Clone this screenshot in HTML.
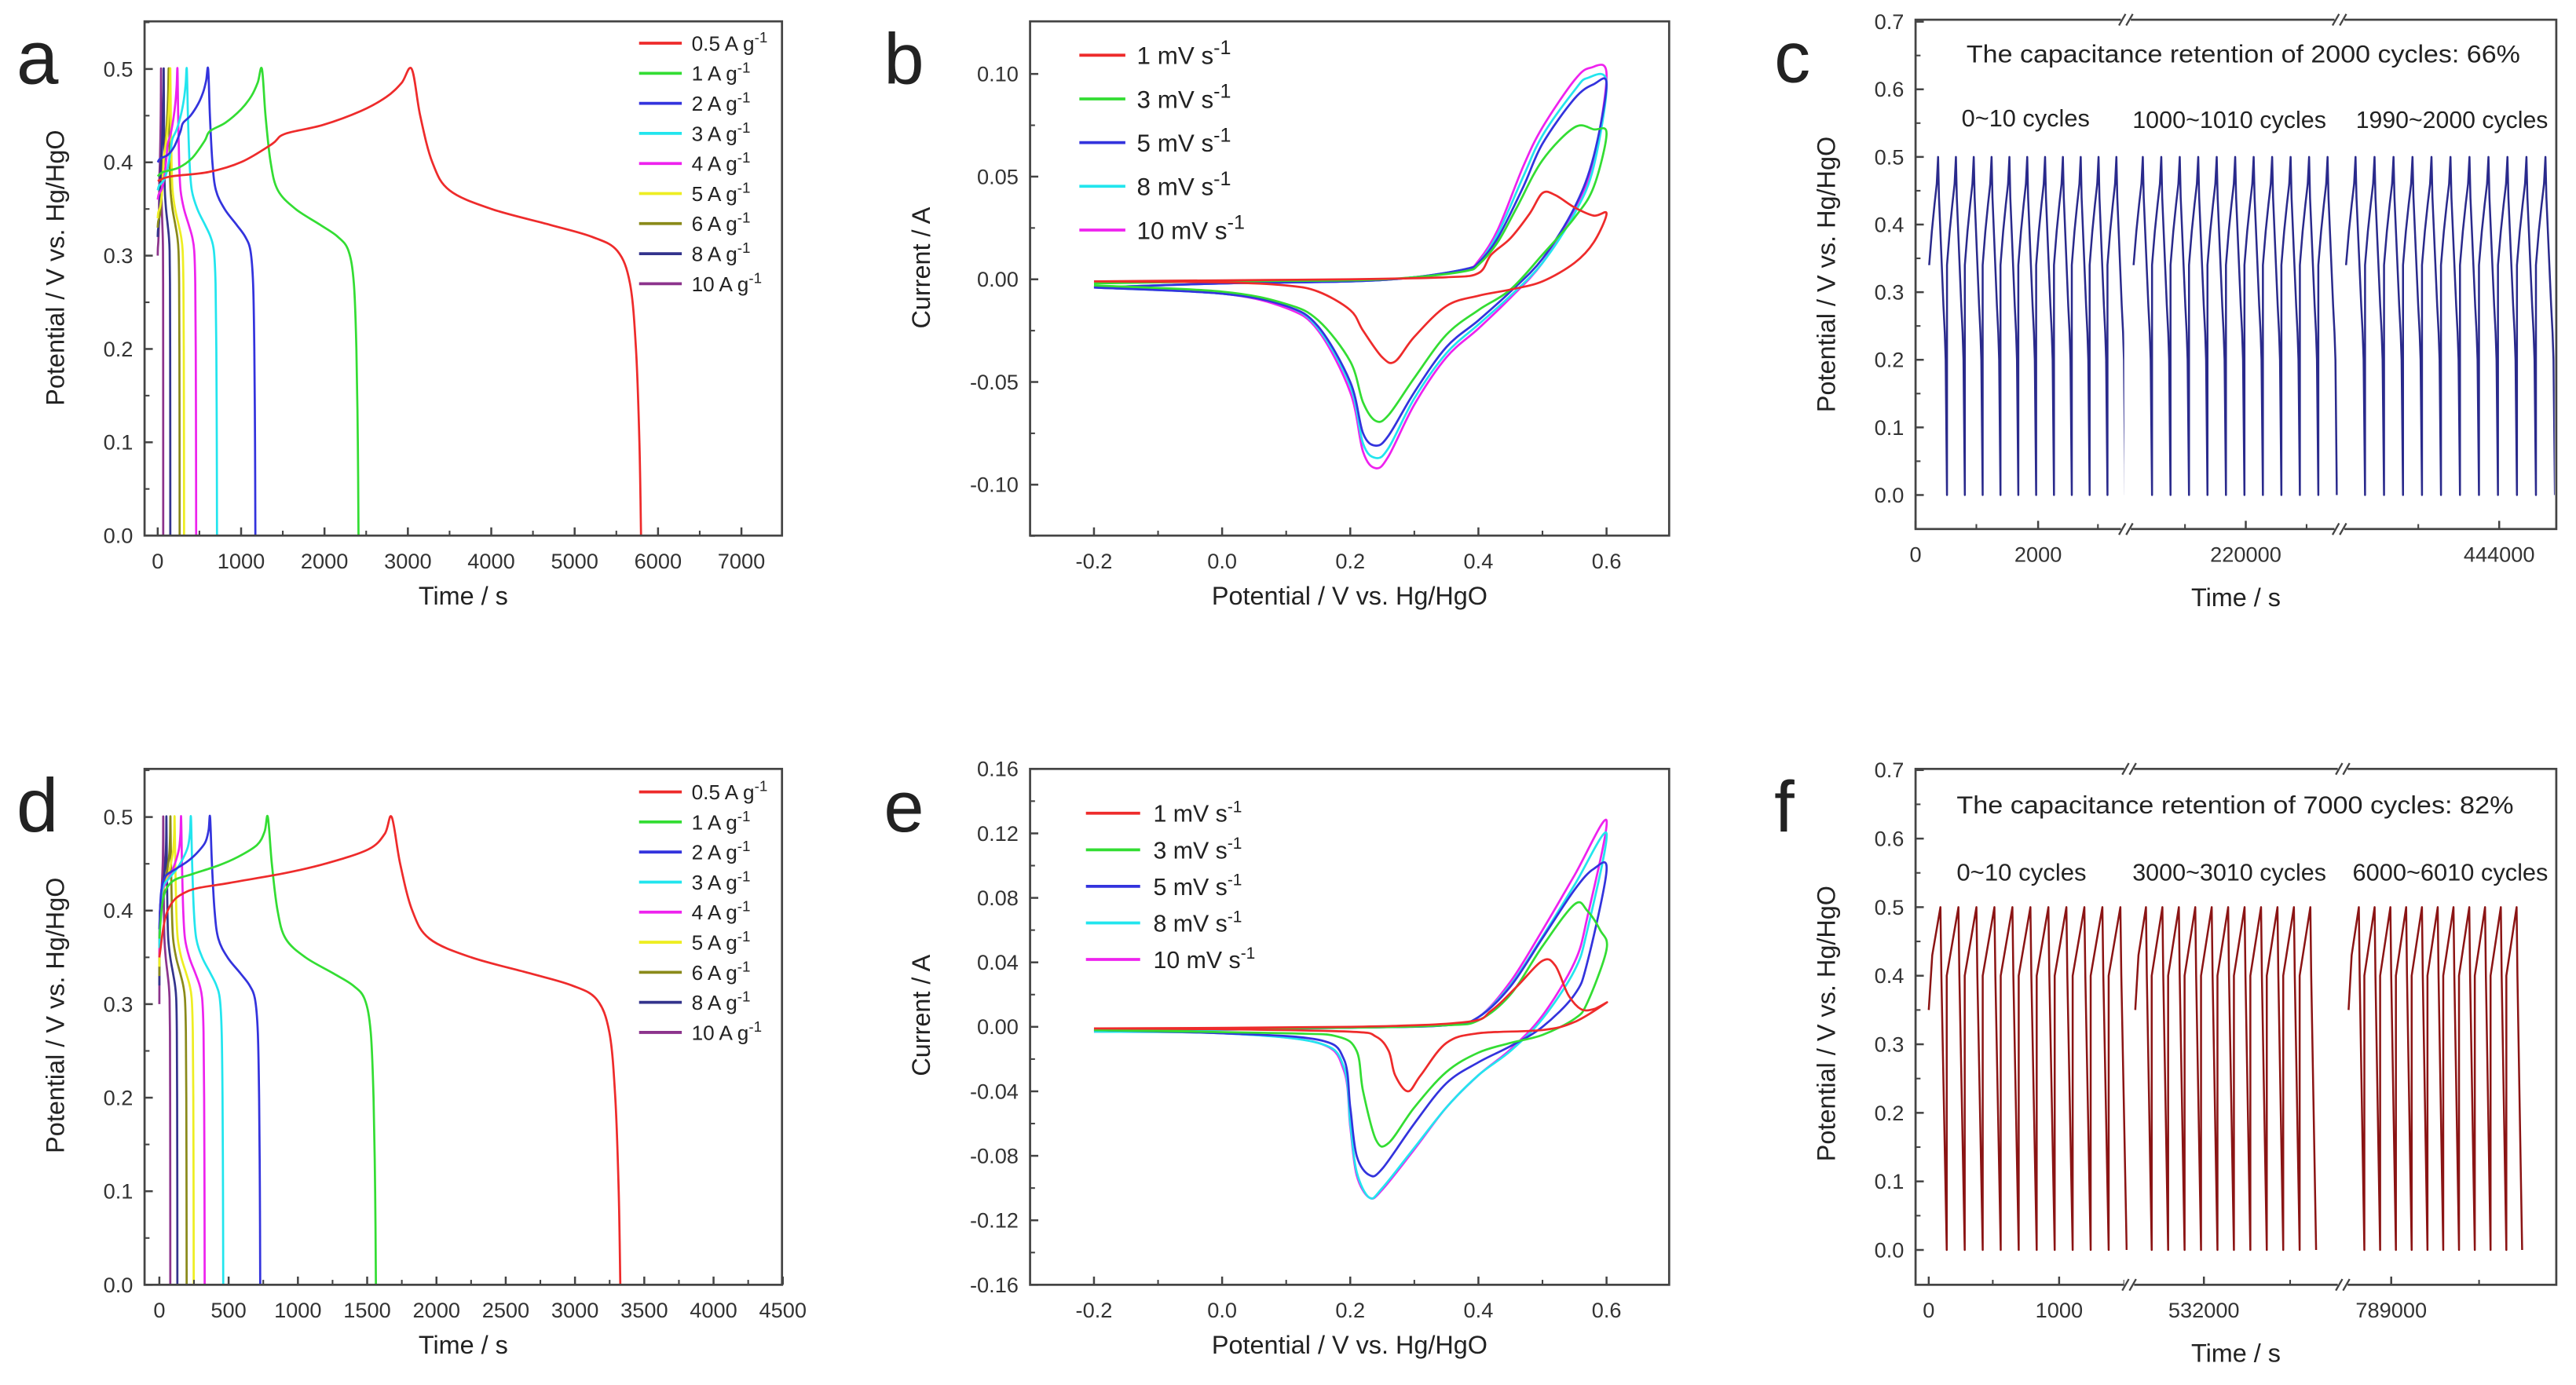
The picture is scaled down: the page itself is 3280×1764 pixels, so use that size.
<!DOCTYPE html>
<html><head><meta charset="utf-8"><title>Electrochemical performance figure</title>
<style>
html,body{margin:0;padding:0;background:#fff;}
svg{display:block;font-family:"Liberation Sans",Arial,sans-serif;}
</style></head>
<body>
<svg id="fig" xmlns="http://www.w3.org/2000/svg" width="3280" height="1764" viewBox="0 0 1568 843" preserveAspectRatio="none">
<rect x="0" y="0" width="1568" height="843" fill="#fff"/>
</svg>
<script>
// ---------- DATA ----------
// Panel a GCD
const gcdRatesA = ['0.5','1','2','3','4','5','6','8','10'];
const gcdChargeEndA = [3046,1250,605,349,237,151,132,72,40];
const gcdDischargeEndA = [5796,2408,1171,711,461,316,263,151,66];
const gcdStartVA = [0.38,0.385,0.40,0.37,0.36,0.34,0.33,0.32,0.30];
// Panel d GCD
const gcdRatesD = ['0.5','1','2','3','4','5','6','8','10'];
const gcdChargeEndD = [1677,783,366,228,157,110,80,51,28];
const gcdDischargeEndD = [3327,1563,728,461,327,248,197,130,79];
const gcdStartVD = [0.35,0.37,0.38,0.36,0.35,0.34,0.33,0.32,0.30];
// normalised charge / discharge shapes
const chargeShapeT = [0,0.05,0.2,0.33,0.45,0.5,0.65,0.8,0.9,0.96,1];
const chargeShapeF = [0,0.04,0.08,0.17,0.33,0.42,0.5,0.625,0.75,0.875,1];
const chargeShapeTD = [0,0.035,0.12,0.3,0.54,0.72,0.9,0.97,1];
const chargeShapeFD = [0,0.33,0.47,0.53,0.6,0.67,0.77,0.88,1];
const dischargeShapeT = [0,0.037,0.09,0.165,0.348,0.604,0.788,0.897,0.952,0.978,0.993,1];
const dischargeShapeV = [0.5,0.45,0.40,0.37,0.35,0.333,0.32,0.305,0.27,0.2,0.1,0];
const gcdColors = ['#ee2b2b','#33dd33','#3333dd','#22e5ee','#ee22ee','#eeee22','#8a8a1a','#33338c','#8c338c'];

// Panel b CV  [potential, current]
const cvRatesB = ['1','3','5','8','10'];
const cvB1 = [[-0.2,-0.001],[0,-0.0005],[0.2,0],[0.35,0.001],[0.4,0.003],[0.42,0.012],[0.45,0.02],[0.48,0.032],[0.5,0.042],[0.52,0.041],[0.55,0.035],[0.58,0.031],[0.6,0.032],[0.58,0.018],[0.55,0.008],[0.5,-0.001],[0.45,-0.005],[0.4,-0.008],[0.35,-0.013],[0.3,-0.028],[0.27,-0.04],[0.25,-0.038],[0.22,-0.025],[0.2,-0.015],[0.15,-0.006],[0.1,-0.003],[0,-0.0015],[-0.2,-0.001]];
const cvB3 = [[-0.2,-0.002],[0,-0.001],[0.2,-0.0005],[0.3,0.001],[0.38,0.004],[0.4,0.007],[0.43,0.018],[0.46,0.035],[0.5,0.058],[0.55,0.074],[0.58,0.073],[0.6,0.071],[0.58,0.045],[0.55,0.03],[0.5,0.012],[0.45,-0.005],[0.4,-0.015],[0.35,-0.027],[0.3,-0.048],[0.26,-0.066],[0.24,-0.069],[0.22,-0.06],[0.2,-0.04],[0.15,-0.02],[0.1,-0.012],[0,-0.006],[-0.2,-0.003]];
const cvB5 = [[-0.2,-0.004],[0,-0.002],[0.2,-0.001],[0.3,0.001],[0.38,0.005],[0.4,0.008],[0.43,0.02],[0.47,0.045],[0.5,0.066],[0.55,0.088],[0.58,0.095],[0.6,0.095],[0.58,0.06],[0.55,0.035],[0.5,0.01],[0.45,-0.006],[0.4,-0.02],[0.35,-0.033],[0.3,-0.055],[0.26,-0.076],[0.24,-0.081],[0.22,-0.075],[0.2,-0.05],[0.15,-0.023],[0.1,-0.013],[0,-0.007],[-0.2,-0.004]];
const cvB8 = [[-0.2,-0.004],[0,-0.002],[0.2,-0.001],[0.3,0.001],[0.38,0.005],[0.4,0.008],[0.43,0.022],[0.47,0.05],[0.5,0.07],[0.55,0.092],[0.57,0.098],[0.6,0.096],[0.58,0.055],[0.55,0.032],[0.5,0.008],[0.45,-0.008],[0.4,-0.022],[0.35,-0.036],[0.3,-0.058],[0.26,-0.082],[0.24,-0.087],[0.22,-0.08],[0.2,-0.052],[0.15,-0.024],[0.1,-0.013],[0,-0.007],[-0.2,-0.004]];
const cvB10 = [[-0.2,-0.004],[0,-0.002],[0.2,-0.001],[0.3,0.001],[0.38,0.005],[0.4,0.009],[0.43,0.024],[0.47,0.055],[0.5,0.074],[0.55,0.097],[0.575,0.103],[0.6,0.1],[0.58,0.058],[0.55,0.034],[0.5,0.008],[0.45,-0.009],[0.4,-0.024],[0.35,-0.038],[0.3,-0.061],[0.26,-0.086],[0.24,-0.092],[0.22,-0.084],[0.2,-0.055],[0.15,-0.025],[0.1,-0.014],[0,-0.007],[-0.2,-0.004]];
// Panel e CV
const cvRatesE = ['1','3','5','8','10'];
const cvE1 = [[-0.2,-0.001],[0.2,0],[0.38,0.003],[0.42,0.01],[0.46,0.025],[0.5,0.041],[0.52,0.038],[0.54,0.02],[0.56,0.011],[0.58,0.011],[0.6,0.015],[0.55,0.003],[0.5,-0.002],[0.4,-0.004],[0.35,-0.01],[0.31,-0.03],[0.29,-0.04],[0.27,-0.03],[0.26,-0.015],[0.24,-0.006],[0.2,-0.003],[0,-0.0015],[-0.2,-0.001]];
const cvE3 = [[-0.2,-0.002],[0.2,-0.0005],[0.35,0.001],[0.4,0.004],[0.45,0.02],[0.5,0.05],[0.55,0.076],[0.57,0.072],[0.59,0.06],[0.6,0.048],[0.57,0.015],[0.55,0.005],[0.5,-0.005],[0.45,-0.01],[0.4,-0.016],[0.35,-0.028],[0.3,-0.05],[0.26,-0.072],[0.24,-0.07],[0.22,-0.04],[0.21,-0.015],[0.18,-0.006],[0.1,-0.004],[-0.2,-0.002]];
const cvE5 = [[-0.2,-0.002],[0.2,-0.0005],[0.35,0.001],[0.4,0.006],[0.45,0.025],[0.5,0.055],[0.55,0.085],[0.58,0.098],[0.6,0.097],[0.57,0.04],[0.55,0.02],[0.5,0.0],[0.45,-0.012],[0.4,-0.022],[0.35,-0.035],[0.3,-0.06],[0.25,-0.088],[0.23,-0.092],[0.21,-0.08],[0.2,-0.05],[0.19,-0.02],[0.15,-0.008],[0,-0.004],[-0.2,-0.002]];
const cvE8 = [[-0.2,-0.003],[0.2,-0.0005],[0.35,0.001],[0.4,0.006],[0.45,0.026],[0.5,0.056],[0.55,0.088],[0.6,0.12],[0.57,0.06],[0.55,0.035],[0.5,0.005],[0.45,-0.015],[0.4,-0.03],[0.35,-0.05],[0.3,-0.075],[0.25,-0.1],[0.23,-0.106],[0.21,-0.09],[0.2,-0.06],[0.19,-0.025],[0.15,-0.01],[0,-0.004],[-0.2,-0.003]];
const cvE10 = [[-0.2,-0.003],[0.2,-0.0005],[0.35,0.001],[0.4,0.006],[0.45,0.028],[0.5,0.06],[0.55,0.094],[0.6,0.128],[0.57,0.068],[0.55,0.04],[0.5,0.007],[0.45,-0.014],[0.4,-0.03],[0.35,-0.05],[0.3,-0.076],[0.25,-0.101],[0.23,-0.106],[0.21,-0.092],[0.2,-0.062],[0.19,-0.027],[0.15,-0.01],[0,-0.004],[-0.2,-0.003]];
const cvColors = ['#ee2b2b','#33dd33','#3333dd','#22e5ee','#ee22ee'];

// Panel c cycling (segments: start time, period)
const cycSegStartC = [222, 218154, 441500];
const cycPeriodC = [291, 304, 310];
const cycCountC = [11, 11, 11];
const cycChargeShapeT = [0,0.3,0.6,0.85,1];
const cycChargeShapeV = [0.34,0.39,0.43,0.46,0.5];
const cycDischargeShapeT = [0,0.1,0.35,0.6,0.75,0.85,1];
const cycDischargeShapeV = [0.5,0.44,0.36,0.28,0.24,0.2,0];
// Panel f cycling
const cycSegStartF = [0, 531474, 788673];
const cycPeriodF = [138, 126, 121];
const cycCountF = [11, 11, 11];
const cycChargeShapeTF = [0,0.3,0.7,1];
const cycChargeShapeVF = [0.40,0.43,0.47,0.5];
const cycDischargeShapeTF = [0,0.15,0.3,1];
const cycDischargeShapeVF = [0.5,0.4,0.33,0];

// ---------- HELPERS ----------
const NS = 'http://www.w3.org/2000/svg';
const svg = document.getElementById('fig');
function mk(tag, attrs, parent){
  const e = document.createElementNS(NS, tag);
  for (const k in attrs) e.setAttribute(k, attrs[k]);
  (parent || svg).appendChild(e);
  return e;
}
function lin(d0,d1,r0,r1){ return v => r0 + (v-d0)*(r1-r0)/(d1-d0); }
function smoothPath(pts){
  if (pts.length < 2) return '';
  let d = 'M' + pts[0][0].toFixed(2) + ',' + pts[0][1].toFixed(2);
  for (let i=0;i<pts.length-1;i++){
    const p0 = pts[i-1]||pts[i], p1=pts[i], p2=pts[i+1], p3=pts[i+2]||p2;
    const c1 = [p1[0]+(p2[0]-p0[0])/6, p1[1]+(p2[1]-p0[1])/6];
    const c2 = [p2[0]-(p3[0]-p1[0])/6, p2[1]-(p3[1]-p1[1])/6];
    d += 'C'+c1[0].toFixed(2)+','+c1[1].toFixed(2)+' '+c2[0].toFixed(2)+','+c2[1].toFixed(2)+' '+p2[0].toFixed(2)+','+p2[1].toFixed(2);
  }
  return d;
}
function linePath(pts){
  return pts.map((p,i)=>(i?'L':'M')+p[0].toFixed(2)+','+p[1].toFixed(2)).join('');
}
function frame(g, b, name){
  const r = mk('rect',{x:b.x0,y:b.y0,width:b.x1-b.x0,height:b.y1-b.y0,fill:'none',stroke:'#444','stroke-width':1.3},g);
  
  
}
function yAxis(g, b, sy, ticks, labels, minors, name){
  ticks.forEach((v,i)=>{
    const y = sy(v);
    const t = mk('line',{x1:b.x0,x2:b.x0+5,y1:y,y2:y,stroke:'#444','stroke-width':1.2},g);
    
    
    const l = mk('text',{x:b.x0-7,y:y+4.5,'text-anchor':'end','font-size':13,fill:'#333'},g);
    l.textContent = labels[i];
    
    
  });
  minors.forEach(v=>{
    const y = sy(v);
    const t = mk('line',{x1:b.x0,x2:b.x0+3,y1:y,y2:y,stroke:'#444','stroke-width':1},g);
    
    
  });
}
function xAxis(g, b, xs, labels, minorXs, name){
  xs.forEach((x,i)=>{
    const t = mk('line',{x1:x,x2:x,y1:b.y1,y2:b.y1-5,stroke:'#444','stroke-width':1.2},g);
    
    
    const l = mk('text',{x:x,y:b.y1+20,'text-anchor':'middle','font-size':13,fill:'#333'},g);
    l.textContent = labels[i];
    
    
  });
  minorXs.forEach(x=>{
    const t = mk('line',{x1:x,x2:x,y1:b.y1,y2:b.y1-3,stroke:'#444','stroke-width':1},g);
    
    
  });
}
function text(g, x, y, s, size, anchor, name, extra){
  const a = Object.assign({x:x,y:y,'font-size':size,fill:'#222','text-anchor':anchor||'start'}, extra||{});
  const t = mk('text',a,g);
  t.textContent = s;
  
  
  return t;
}
function ytitle(g, x, y, s, name){
  const t = mk('text',{x:0,y:0,'font-size':15.5,fill:'#222','text-anchor':'middle',transform:'translate('+x+','+y+') rotate(-90)'},g);
  t.textContent = s;
  
  
}
function legendEntry(g, x1, x2, tx, y, color, label, unit, name, fs, sfs){
  const ln = mk('line',{x1:x1,x2:x2,y1:y,y2:y,stroke:color,'stroke-width':1.8},g);
  
  
  const t = mk('text',{x:tx,y:y+fs*0.36,'font-size':fs,fill:'#222'},g);
  
  
  t.appendChild(document.createTextNode(label+' '+unit));
  const s = mk('tspan',{'font-size':sfs,dy:-fs*0.4},t);
  s.textContent = '-1';
}
function breakMark(g, x, y, name){
  const w = mk('rect',{x:x-3,y:y-3,width:6,height:6,fill:'#fff'},g);
  
  
  [-2.2,2.2].forEach(dx=>{
    const l = mk('line',{x1:x+dx-2,y1:y+3.5,x2:x+dx+2,y2:y-3.5,stroke:'#444','stroke-width':1.1},g);
    
    
  });
}
function range(a,b,s){const r=[];for(let v=a;v<=b+1e-9;v+=s)r.push(+v.toFixed(6));return r;}

// ---------- GCD PANELS ----------
function gcdPanel(id, letter, b, sx, sy, xTicksV, rates, tc, td, v0, cT, cF, legY0, minorX){
  const g = mk('g',{});
  
  
  const clip = mk('clipPath',{id:'clip'+letter},g);
  mk('rect',{x:b.x0,y:b.y0-2,width:b.x1-b.x0,height:b.y1-b.y0+2},clip);
  const cg = mk('g',{'clip-path':'url(#clip'+letter+')'},g);
  
  
  for (let i=rates.length-1;i>=0;i--){
    const pts = [];
    cT.forEach((f,k)=>pts.push([sx(f*tc[i]), sy(v0[i]+(0.5-v0[i])*cF[k])]));
    dischargeShapeT.forEach((f,k)=>{ if(k>0) pts.push([sx(tc[i]+f*(td[i]-tc[i])), sy(dischargeShapeV[k])]); });
    const p = mk('path',{d:smoothPath(pts),fill:'none',stroke:gcdColors[i],'stroke-width':1.3},cg);
    
    
  }
  frame(g,b,'plot-frame-'+letter);
  yAxis(g,b,sy,[0,0.1,0.2,0.3,0.4,0.5],['0.0','0.1','0.2','0.3','0.4','0.5'],[0.05,0.15,0.25,0.35,0.45,0.55].filter(v=>sy(v)>b.y0),'y-axis-'+letter);
  xAxis(g,b,xTicksV.map(sx),xTicksV.map(String),minorX.map(sx).filter(x=>x>b.x0&&x<b.x1),'x-axis-'+letter);
  rates.forEach((r,i)=>legendEntry(g,389,415,421,legY0+i*18.3,gcdColors[i],r,'A g','legend-entry-'+r+'-A-g',12.5,9));
  text(g,b.x0-78,b.y0+38,letter,46,'start','panel-label-'+letter);
  ytitle(g,39,b.y0+150,'Potential / V vs. Hg/HgO','y-axis-title-'+letter);
  text(g,282,b.y1+42,'Time / s',15.5,'middle','x-axis-title-'+letter);
}
gcdPanel('a','a',{x0:88,x1:476,y0:13,y1:326},lin(0,7000,96,451.3),lin(0,0.5,326,42),
  [0,1000,2000,3000,4000,5000,6000,7000],gcdRatesA,gcdChargeEndA,gcdDischargeEndA,gcdStartVA,chargeShapeT,chargeShapeF,26.3,range(500,7000,1000));
gcdPanel('d','d',{x0:88,x1:476,y0:468,y1:782},lin(0,4500,97,476.5),lin(0,0.5,782,497.3),
  [0,500,1000,1500,2000,2500,3000,3500,4000,4500],gcdRatesD,gcdChargeEndD,gcdDischargeEndD,gcdStartVD,chargeShapeTD,chargeShapeFD,482,range(250,4500,500));

// ---------- CV PANELS ----------
function cvPanel(letter, b, sx, sy, series, rates, yt, ylabels, yminor, leg){
  const g = mk('g',{});
  
  
  for (let i=series.length-1;i>=0;i--){
    const pts = series[i].map(p=>[sx(p[0]),sy(p[1])]);
    const p = mk('path',{d:smoothPath(pts),fill:'none',stroke:cvColors[i],'stroke-width':1.3},g);
    
    
  }
  frame(g,b,'plot-frame-'+letter);
  yAxis(g,b,sy,yt,ylabels,yminor,'y-axis-'+letter);
  const xt=[-0.2,0,0.2,0.4,0.6];
  xAxis(g,b,xt.map(sx),['-0.2','0.0','0.2','0.4','0.6'],[-0.1,0.1,0.3,0.5].map(sx),'x-axis-'+letter);
  rates.forEach((r,i)=>legendEntry(g,leg.x1,leg.x2,leg.tx,leg.y0+i*leg.dy,cvColors[i],r,'mV s','legend-entry-'+r+'-mV-s',leg.fs,leg.sfs));
  text(g,538,b.y0+38,letter,44,'start','panel-label-'+letter);
  ytitle(g,566,b.y0+150,'Current / A','y-axis-title-'+letter);
  text(g,821.5,b.y1+42,'Potential / V vs. Hg/HgO',15.5,'middle','x-axis-title-'+letter);
}
cvPanel('b',{x0:627,x1:1016,y0:13,y1:326},lin(-0.2,0.6,665.9,977.9),lin(-0.1,0.1,295,45),
  [cvB1,cvB3,cvB5,cvB8,cvB10],cvRatesB,[-0.1,-0.05,0,0.05,0.1],['-0.10','-0.05','0.00','0.05','0.10'],
  [-0.125,-0.075,-0.025,0.025,0.075],{x1:657,x2:685,tx:692,y0:33.6,dy:26.6,fs:15,sfs:12});
cvPanel('e',{x0:627,x1:1016,y0:468,y1:782},lin(-0.2,0.6,665.9,977.9),lin(-0.16,0.16,782,468),
  [cvE1,cvE3,cvE5,cvE8,cvE10],cvRatesE,[-0.16,-0.12,-0.08,-0.04,0,0.04,0.08,0.12,0.16],
  ['-0.16','-0.12','-0.08','-0.04','0.00','0.04','0.08','0.12','0.16'],
  [-0.14,-0.10,-0.06,-0.02,0.02,0.06,0.10,0.14],{x1:661,x2:694,tx:702,y0:495,dy:22.25,fs:14.5,sfs:10});

// ---------- CYCLING PANELS ----------
function cycPanel(letter, b, sy, segs, starts, periods, counts, chargeFrac, cT, cV, dT, dV, color, xticks, title, labels, minorX, firstV){
  const g = mk('g',{});
  
  
  segs.forEach((s,si)=>{
    const sx = lin(s.d0,s.d1,s.r0,s.r1);
    const clip = mk('clipPath',{id:'clip'+letter+si},g);
    mk('rect',{x:s.r0,y:b.y0,width:s.r1-s.r0-1,height:b.y1-b.y0},clip);
    const pts=[];
    for(let k=0;k<counts[si];k++){
      const t0 = starts[si]+k*periods[si];
      const tc = chargeFrac*periods[si];
      if(k>0) pts.push([sx(t0),sy(0)]);
      cT.forEach((f,j)=>{
        const v = (k===0 && j===0 && firstV!==undefined) ? firstV : cV[j];
        pts.push([sx(t0+f*tc),sy(v)]);
      });
      dT.forEach((f,j)=>{ if(j>0) pts.push([sx(t0+tc+f*(periods[si]-tc)),sy(dV[j])]); });
    }
    const p = mk('path',{d:linePath(pts),fill:'none',stroke:color,'stroke-width':1.2,'stroke-linejoin':'round','clip-path':'url(#clip'+letter+si+')'},g);
    
    
    xticks[si].forEach(v=>{
      const x=sx(v);
      const t = mk('line',{x1:x,x2:x,y1:b.y1,y2:b.y1-5,stroke:'#444','stroke-width':1.2},g);
      
      
      text(g,x,b.y1+20,String(v),13,'middle','x-axis-'+letter+'-tick-label',{fill:'#333'});
    });
    minorX[si].forEach(x=>{
      const t = mk('line',{x1:x,x2:x,y1:b.y1,y2:b.y1-3,stroke:'#444','stroke-width':1},g);
      
      
    });
  });
  frame(g,b,'plot-frame-'+letter);
  yAxis(g,b,sy,[0,0.1,0.2,0.3,0.4,0.5,0.6,0.7],['0.0','0.1','0.2','0.3','0.4','0.5','0.6','0.7'],[0.05,0.15,0.25,0.35,0.45,0.55,0.65],'y-axis-'+letter);
  segs.slice(1).forEach(s=>{ breakMark(g,s.r0,b.y0,'axis-break-top-'+letter); breakMark(g,s.r0,b.y1,'axis-break-bottom-'+letter); });
  text(g,title.x,title.y,title.s,15,'start','retention-annotation-'+letter,{textLength:title.w,lengthAdjust:'spacingAndGlyphs'});
  labels.forEach(L=>text(g,L.x,L.y,L.s,14.5,'start','cycle-range-label',{textLength:L.w,lengthAdjust:'spacingAndGlyphs'}));
  text(g,b.x0-86,b.y0+38,letter,44,'start','panel-label-'+letter);
  ytitle(g,1117,b.y0+155,'Potential / V vs. Hg/HgO','y-axis-title-'+letter);
  text(g,1361,b.y1+47,'Time / s',15.5,'middle','x-axis-title-'+letter);
}
cycPanel('c',{x0:1166,x1:1556,y0:12,y1:322},lin(0,0.7,301.3,13.2),
  [{d0:0,d1:3432,r0:1166,r1:1294},{d0:218027,d1:221541,r0:1294,r1:1424},{d0:441392,d1:444932,r0:1424,r1:1556}],
  cycSegStartC,cycPeriodC,cycCountC,0.5,cycChargeShapeT,cycChargeShapeV,cycDischargeShapeT,cycDischargeShapeV,'#2a2a8c',
  [[0,2000],[220000],[444000]],
  {x:1197,y:38,s:'The capacitance retention of 2000 cycles: 66%',w:337},
  [{x:1194,y:77,s:'0~10 cycles',w:78},{x:1298,y:78,s:'1000~1010 cycles',w:118},{x:1434,y:78,s:'1990~2000 cycles',w:117}],
  [[1203,1277],[1330,1404],[1472]]);
cycPanel('f',{x0:1166,x1:1556,y0:468,y1:782},lin(0,0.7,760.8,468.7),
  [{d0:-101,d1:1537,r0:1166,r1:1296},{d0:531427,d1:533064,r0:1296,r1:1426},{d0:788628,d1:790266,r0:1426,r1:1556}],
  cycSegStartF,cycPeriodF,cycCountF,0.65,cycChargeShapeTF,cycChargeShapeVF,cycDischargeShapeTF,cycDischargeShapeVF,'#8b1414',
  [[0,1000],[532000],[789000]],
  {x:1191,y:495,s:'The capacitance retention of 7000 cycles: 82%',w:339},
  [{x:1191,y:536,s:'0~10 cycles',w:79},{x:1298,y:536,s:'3000~3010 cycles',w:118},{x:1432,y:536,s:'6000~6010 cycles',w:119}],
  [[1213,1293],[1394],[1509]],0.35);
</script>
</body></html>
